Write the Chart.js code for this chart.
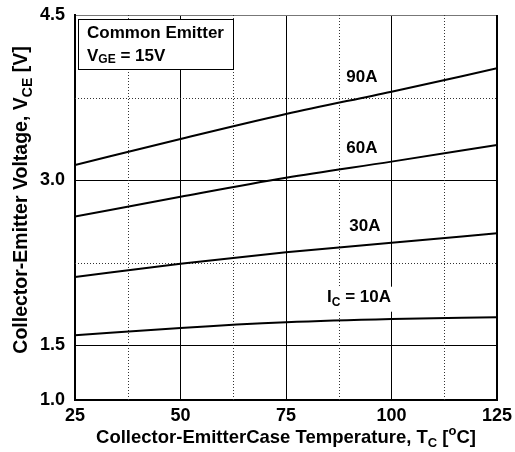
<!DOCTYPE html>
<html>
<head>
<meta charset="utf-8">
<script src="https://cdn.jsdelivr.net/npm/chart.js@4.4.1/dist/chart.umd.min.js"></script>
<style>
  html, body { margin: 0; padding: 0; background: #fff; }
  #wrap { width: 515px; height: 452px; }
</style>
</head>
<body>
<div id="wrap"><canvas id="vceChart" width="515" height="452"></canvas></div>
<script>
// data
const temps = [25, 50, 75, 100, 125];
const vce90 = [3.136, 3.373, 3.60, 3.803, 4.015];
const vce60 = [2.667, 2.848, 3.021, 3.167, 3.318];
const vce30 = [2.118, 2.239, 2.343, 2.430, 2.515];
const vce10 = [1.588, 1.655, 1.706, 1.736, 1.752];

const xTicks = [25, 50, 75, 100, 125];
const xDotted = [37.5, 62.5, 87.5, 112.5];
const yTicks = [1.0, 1.5, 3.0, 4.5];
const yDotted = [2.25, 3.75];

// curve labels, in data coordinates
const curveLabels = [
  { x: 93, y: 3.93, parts: [{ t: "90A" }] },
  { x: 93, y: 3.29, parts: [{ t: "60A" }] },
  { x: 93.7, y: 2.58, parts: [{ t: "30A" }] },
  { x: 92.3, y: 1.93, parts: [{ t: "I" }, { t: "C", sub: true }, { t: " = 10A" }], bg: true },
];

const FONT = '"Liberation Sans", Arial, sans-serif';

const toPts = (ys) => temps.map((t, i) => ({ x: t, y: ys[i] }));

// draw text with subscripts / superscripts, centred on (x, y)
function drawRich(ctx, parts, x, y, size) {
  const subSize = Math.round(size * 0.72);
  let total = 0;
  parts.forEach((p) => {
    ctx.font = "bold " + (p.sub || p.sup ? subSize : size) + "px " + FONT;
    p.w = ctx.measureText(p.t).width;
    total += p.w;
  });
  let cx = x - total / 2;
  ctx.textBaseline = "middle";
  ctx.textAlign = "left";
  parts.forEach((p) => {
    ctx.font = "bold " + (p.sub || p.sup ? subSize : size) + "px " + FONT;
    let dy = 0;
    if (p.sub) dy = size * 0.3;
    if (p.sup) dy = -size * 0.35;
    ctx.fillText(p.t, cx, y + dy);
    cx += p.w;
  });
  return total;
}

const decorPlugin = {
  id: "decor",
  beforeDatasetsDraw(chart) {
    const { ctx, chartArea: a, scales } = chart;
    ctx.save();
    // dotted grid lines
    ctx.strokeStyle = "#333";
    ctx.lineWidth = 1;
    ctx.setLineDash([1, 2]);
    xDotted.forEach((v) => {
      const px = Math.round(scales.x.getPixelForValue(v)) + 0.5;
      ctx.beginPath();
      ctx.moveTo(px, a.top);
      ctx.lineTo(px, a.bottom);
      ctx.stroke();
    });
    yDotted.forEach((v) => {
      const py = Math.round(scales.y.getPixelForValue(v)) + 0.5;
      ctx.beginPath();
      ctx.moveTo(a.left, py);
      ctx.lineTo(a.right, py);
      ctx.stroke();
    });
    ctx.setLineDash([]);
    // right frame edge
    ctx.strokeStyle = "#000";
    ctx.lineWidth = 2;
    ctx.beginPath();
    ctx.moveTo(a.right, a.top);
    ctx.lineTo(a.right, a.bottom);
    ctx.stroke();
    ctx.restore();
  },
  afterDatasetsDraw(chart) {
    const { ctx, chartArea: a, scales } = chart;
    ctx.save();
    ctx.fillStyle = "#000";

    // legend box
    const bx = a.left + 3, by = a.top + 4, bw = 155, bh = 50;
    ctx.fillStyle = "#fff";
    ctx.fillRect(bx, by, bw, bh);
    ctx.strokeStyle = "#000";
    ctx.lineWidth = 1;
    ctx.strokeRect(bx + 0.5, by + 0.5, bw, bh);
    ctx.fillStyle = "#000";
    ctx.font = "bold 17px " + FONT;
    ctx.textBaseline = "middle";
    ctx.textAlign = "left";
    ctx.fillText("Common Emitter", bx + 9, by + 14);
    let cx = bx + 9;
    const vParts = [{ t: "V" }, { t: "GE", sub: true }, { t: " = 15V" }];
    vParts.forEach((p) => {
      const s = p.sub ? 12 : 17;
      ctx.font = "bold " + s + "px " + FONT;
      ctx.fillText(p.t, cx, by + 37 + (p.sub ? 4 : 0));
      cx += ctx.measureText(p.t).width;
    });

    // curve labels
    curveLabels.forEach((l) => {
      const px = scales.x.getPixelForValue(l.x);
      const py = scales.y.getPixelForValue(l.y);
      if (l.bg) {
        ctx.fillStyle = "#fff";
        ctx.fillRect(px - 35, py - 11, 70, 25);
        ctx.fillStyle = "#000";
      }
      drawRich(ctx, l.parts, px, py, 17);
    });

    // axis titles
    drawRich(ctx, [{ t: "Collector-EmitterCase Temperature, T" }, { t: "C", sub: true },
      { t: " [" }, { t: "o", sup: true }, { t: "C]" }], (a.left + a.right) / 2, 438, 18.5);

    ctx.translate(22, 200);
    ctx.rotate(-Math.PI / 2);
    drawRich(ctx, [{ t: "Collector-Emitter Voltage, V" }, { t: "CE", sub: true }, { t: " [V]" }], 0, 0, 19.5);
    ctx.restore();
  },
};

const lineDs = (label, ys) => ({
  label: label,
  data: toPts(ys),
  borderColor: "#000",
  borderWidth: 2,
  pointRadius: 0,
  tension: 0.25,
  cubicInterpolationMode: "monotone",
  fill: false,
});

new Chart(document.getElementById("vceChart"), {
  type: "line",
  data: {
    datasets: [
      lineDs("90A", vce90),
      lineDs("60A", vce60),
      lineDs("30A", vce30),
      lineDs("10A", vce10),
    ],
  },
  options: {
    responsive: false,
    animation: false,
    devicePixelRatio: 1,
    layout: { padding: { left: 0, right: 18, top: 15, bottom: 0 } },
    plugins: { legend: { display: false }, tooltip: { enabled: false } },
    scales: {
      x: {
        type: "linear",
        min: 25,
        max: 125,
        afterBuildTicks: (s) => { s.ticks = xTicks.map((v) => ({ value: v })); },
        afterFit: (s) => {
          s.height = 52;
          s.paddingLeft = 0;
          s.paddingRight = 0;
        },
        grid: { color: "#000", lineWidth: 1, drawTicks: false },
        border: { color: "#000", width: 2 },
        ticks: {
          color: "#000",
          padding: 5,
          maxRotation: 0,
          font: { family: FONT, size: 18, weight: "bold" },
        },
      },
      y: {
        type: "linear",
        min: 1.0,
        max: 4.5,
        afterBuildTicks: (s) => { s.ticks = yTicks.map((v) => ({ value: v })); },
        afterFit: (s) => {
          s.width = 75;
          s.paddingTop = 0;
          s.paddingBottom = 0;
        },
        grid: {
          color: (c) => (c.tick && c.tick.value === 4.5 ? "#777" : "#000"),
          lineWidth: 1,
          drawTicks: false,
        },
        border: { color: "#000", width: 2 },
        ticks: {
          color: "#000",
          padding: 10,
          callback: (v) => v.toFixed(1),
          font: { family: FONT, size: 18, weight: "bold" },
        },
      },
    },
  },
  plugins: [decorPlugin],
});
</script>
</body>
</html>
